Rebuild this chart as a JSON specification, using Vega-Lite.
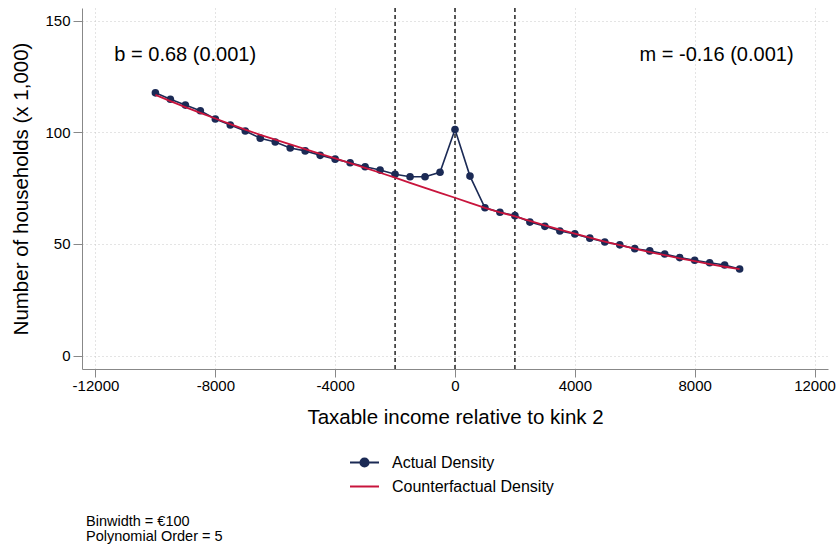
{
  "$schema": "https://vega.github.io/schema/vega-lite/v6.json",
  "width": 746,
  "height": 361,
  "autosize": {"type": "none"},
  "padding": {"left": 82, "top": 8, "right": 12, "bottom": 177},
  "background": "white",
  "config": {
    "view": {"stroke": null},
    "font": "Liberation Sans",
    "axis": {"labelFont": "Liberation Sans", "titleFont": "Liberation Sans", "labelColor": "#000", "titleColor": "#000", "titleFontWeight": "normal"}
  },
  "title": {
    "text": ["Binwidth = €100", "Polynomial Order = 5"],
    "orient": "bottom",
    "anchor": "start",
    "frame": "group",
    "fontSize": 14.5,
    "fontWeight": "normal",
    "font": "Liberation Sans",
    "lineHeight": 15,
    "offset": 20,
    "dx": 4,
    "color": "#000"
  },
  "data": {
    "values": [
      {"x": -10000, "actual": 117.7, "cf": 116.8},
      {"x": -9500, "actual": 114.8, "cf": 114.0},
      {"x": -9000, "actual": 112.2, "cf": 111.3},
      {"x": -8500, "actual": 109.7, "cf": 108.7},
      {"x": -8000, "actual": 106.0, "cf": 106.2},
      {"x": -7500, "actual": 103.3, "cf": 103.7},
      {"x": -7000, "actual": 100.6, "cf": 101.2},
      {"x": -6500, "actual": 97.4, "cf": 98.9},
      {"x": -6000, "actual": 95.7, "cf": 96.7},
      {"x": -5500, "actual": 93.0, "cf": 94.6},
      {"x": -5000, "actual": 91.7, "cf": 92.5},
      {"x": -4500, "actual": 89.7, "cf": 90.4},
      {"x": -4000, "actual": 88.0, "cf": 88.3},
      {"x": -3500, "actual": 86.4, "cf": 86.2},
      {"x": -3000, "actual": 84.6, "cf": 84.1},
      {"x": -2500, "actual": 83.1, "cf": 81.9},
      {"x": -2000, "actual": 81.2, "cf": 79.7},
      {"x": -1500, "actual": 80.1, "cf": 77.4},
      {"x": -1000, "actual": 80.1, "cf": 75.1},
      {"x": -500, "actual": 82.1, "cf": 72.9},
      {"x": 0, "actual": 101.3, "cf": 70.7},
      {"x": 500, "actual": 80.4, "cf": 68.4},
      {"x": 1000, "actual": 66.2, "cf": 66.2},
      {"x": 1500, "actual": 64.2, "cf": 64.2},
      {"x": 2000, "actual": 62.7, "cf": 62.4},
      {"x": 2500, "actual": 59.8, "cf": 60.3},
      {"x": 3000, "actual": 57.9, "cf": 58.3},
      {"x": 3500, "actual": 55.8, "cf": 56.4},
      {"x": 4000, "actual": 54.5, "cf": 54.6},
      {"x": 4500, "actual": 52.6, "cf": 52.8},
      {"x": 5000, "actual": 50.9, "cf": 51.1},
      {"x": 5500, "actual": 49.6, "cf": 49.5},
      {"x": 6000, "actual": 47.9, "cf": 47.9},
      {"x": 6500, "actual": 46.9, "cf": 46.4},
      {"x": 7000, "actual": 45.5, "cf": 45.0},
      {"x": 7500, "actual": 43.9, "cf": 43.6},
      {"x": 8000, "actual": 42.7, "cf": 42.3},
      {"x": 8500, "actual": 41.6, "cf": 41.0},
      {"x": 9000, "actual": 40.6, "cf": 39.8},
      {"x": 9500, "actual": 38.8, "cf": 38.7}
    ]
  },
  "encoding": {
    "x": {
      "field": "x", "type": "quantitative",
      "scale": {"domain": [-12450, 12450], "nice": false, "zero": false},
      "axis": {
        "title": "Taxable income relative to kink 2",
        "values": [-12000, -8000, -4000, 0, 4000, 8000, 12000],
        "labelExpr": "datum.value + ''",
        "labelFontSize": 15, "titleFontSize": 20.5,
        "labelPadding": 1, "titlePadding": 14,
        "tickSize": 8, "tickColor": "#888", "domainColor": "#888",
        "grid": true, "gridDash": [1, 3], "gridColor": "#c8c8c8"
      }
    }
  },
  "layer": [
    {
      "data": {"values": [{"k": -2000}, {"k": 0}, {"k": 2000}]},
      "mark": {"type": "rule", "color": "#000", "strokeDash": [4, 3], "strokeWidth": 1.3},
      "encoding": {"x": {"field": "k", "type": "quantitative"}}
    },
    {
      "mark": {"type": "line", "strokeWidth": 1.6},
      "encoding": {
        "y": {
          "field": "actual", "type": "quantitative",
          "scale": {"domain": [-6, 155.7], "nice": false, "zero": false},
          "axis": {
            "title": "Number of households (x 1,000)",
            "values": [0, 50, 100, 150],
            "labelFontSize": 15, "titleFontSize": 20.5,
            "labelPadding": 3, "titlePadding": 13,
            "tickSize": 9, "tickColor": "#888", "domainColor": "#888",
            "grid": true, "gridDash": [1, 3], "gridColor": "#c8c8c8"
          }
        },
        "color": {
          "datum": "Actual Density", "type": "nominal",
          "scale": {"domain": ["Actual Density", "Counterfactual Density"], "range": ["#1b2a55", "#c8143c"]},
          "legend": {
            "title": null,
            "orient": "none",
            "legendX": 267,
            "legendY": 439,
            "direction": "vertical",
            "padding": 0,
            "labelFontSize": 16,
            "labelFont": "Liberation Sans",
            "labelColor": "#000",
            "labelLimit": 0,
            "symbolSize": 841,
            "symbolStrokeWidth": 2,
            "labelOffset": 12,
            "rowPadding": 0,
            "encode": {
              "symbols": {
                "update": {
                  "shape": {"signal": "datum.value === 'Actual Density' ? 'M-1,0H1M-0.28,0A0.28,0.28,0,1,1,0.28,0A0.28,0.28,0,1,1,-0.28,0Z' : 'M-1,0H1'"},
                  "fill": {"signal": "datum.value === 'Actual Density' ? '#1b2a55' : 'transparent'"},
                  "stroke": {"signal": "datum.value === 'Actual Density' ? '#1b2a55' : '#c8143c'"},
                  "strokeWidth": {"value": 2},
                  "opacity": {"value": 1}
                }
              }
            }
          }
        }
      }
    },
    {
      "mark": {"type": "point", "filled": true, "size": 58, "opacity": 1},
      "encoding": {
        "y": {"field": "actual", "type": "quantitative"},
        "color": {"datum": "Actual Density", "type": "nominal"}
      }
    },
    {
      "mark": {"type": "line", "strokeWidth": 1.8},
      "encoding": {
        "y": {"field": "cf", "type": "quantitative"},
        "color": {"datum": "Counterfactual Density", "type": "nominal"}
      }
    },
    {
      "transform": [{"filter": "datum.x === -10000"}],
      "mark": {"type": "text", "align": "left", "baseline": "middle", "fontSize": 20, "font": "Liberation Sans", "color": "#000"},
      "encoding": {
        "x": {"datum": -11370, "type": "quantitative"},
        "y": {"datum": 134.6, "type": "quantitative"},
        "text": {"value": "b = 0.68 (0.001)"}
      }
    },
    {
      "transform": [{"filter": "datum.x === -10000"}],
      "mark": {"type": "text", "align": "right", "baseline": "middle", "fontSize": 20, "font": "Liberation Sans", "color": "#000"},
      "encoding": {
        "x": {"datum": 11300, "type": "quantitative"},
        "y": {"datum": 134.6, "type": "quantitative"},
        "text": {"value": "m = -0.16 (0.001)"}
      }
    }
  ]
}
